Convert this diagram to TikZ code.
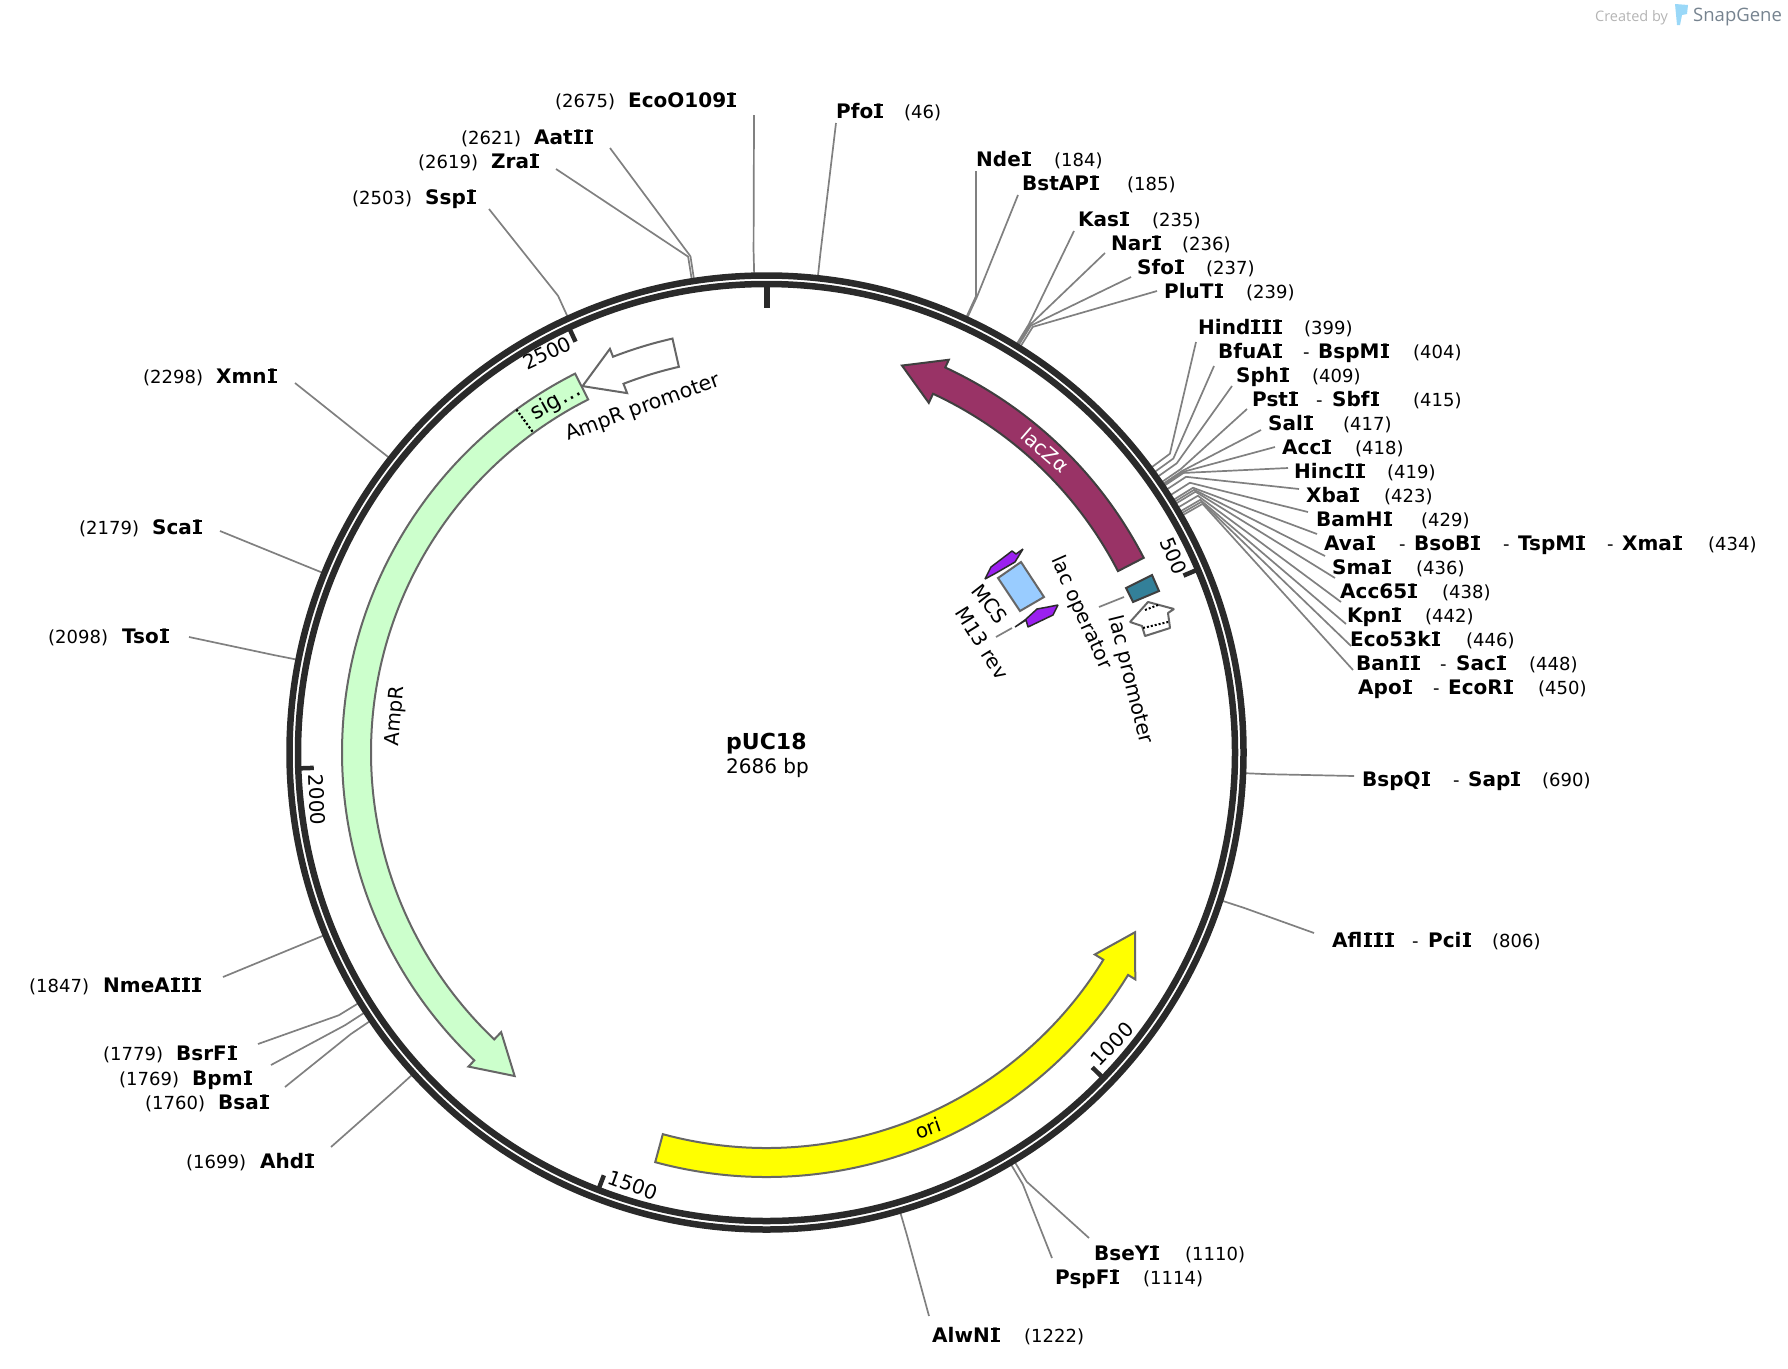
\documentclass[tikz,border=0pt]{standalone}
\usepackage{fontspec}
\setmainfont{DejaVu Sans}
\newfontfamily\logofont{Open Sans}
\definecolor{ringc}{HTML}{2A2A2A}
\definecolor{cutc}{HTML}{808080}
\definecolor{edgec}{HTML}{666666}
\definecolor{ampc}{HTML}{CCFFCC}
\definecolor{lacc}{HTML}{993366}
\definecolor{oric}{HTML}{FFFF00}
\definecolor{opc}{HTML}{338099}
\definecolor{mcsc}{HTML}{99CCFF}
\definecolor{m13c}{HTML}{9B20F0}
\definecolor{tubec}{HTML}{9AD8F8}
\definecolor{brandc}{HTML}{76838F}
\definecolor{creditc}{HTML}{B4B4B4}
\tikzset{
  enzname/.style={anchor=mid west,inner sep=0pt,yshift=-4.6pt,font=\fontsize{20}{22}\selectfont\bfseries},
  enznum/.style={anchor=mid west,inner sep=0pt,yshift=-4.6pt,font=\fontsize{18}{20}\selectfont},
  enzdash/.style={anchor=mid west,inner sep=0pt,yshift=-4.6pt,font=\fontsize{18}{20}\selectfont},
  cutline/.style={draw=cutc,line width=1.7pt,line join=round},
  tickline/.style={draw=ringc,line width=4.5pt},
  ringline/.style={draw=ringc,line width=6.5pt},
  feat/.style={draw=edgec,line width=2pt,line join=miter},
  primer/.style={line width=1.5pt,draw=ringc,fill=m13c,line join=bevel},
  featlabel/.style={inner sep=0pt,font=\fontsize{20}{22}\selectfont},
  centerhere/.style={shift={(766.5,-752.5)}}
}
% serifed capital I, as the bold labels print it
\newcommand{\Ii}{\hbox to .54em{\hss\rlap{\rule[0em]{.44em}{.125em}}\rlap{\rule[.604em]{.44em}{.125em}}\hbox to .44em{\hss I\hss}\hss}}
% name label
\newcommand{\plEnz}[4]{\node[enzname] (#1) at (#2,-#3) {#4};}
% position label
\newcommand{\plNum}[3]{\node[enznum] (n#3) at (#1,-#2) {(#3)};}
% hyphen between names
\newcommand{\plDash}[3]{\node[enzdash] (#1) at (#2,-#3) {-};}
% cut-site connector: id, position, free end x, y
\newcommand{\plCut}[4]{%
  \begin{scope}[centerhere]
    \coordinate (a#1) at ({90-#2/2686*360}:480);
    \coordinate (b#1) at ({90-#2/2686*360}:502);
  \end{scope}
  \coordinate (e#1) at (#3,-#4);
  \draw[cutline] (a#1) -- (b#1) -- (e#1);
}
% scale tick
\newcommand{\plTick}[1]{%
  \begin{scope}[centerhere]
    \coordinate (ti#1) at ({90-#1/2686*360}:468);
    \coordinate (to#1) at ({90-#1/2686*360}:453);
    \draw[tickline] (ti#1) -- (to#1);
  \end{scope}
}
% feature arrow: style, start angle, head base angle, tip angle (clockwise from top)
\newcommand{\plArrow}[4]{%
  \begin{scope}[centerhere]
    \draw[feat,#1] ({90-(#2)}:424.5)
      arc[start angle={90-(#2)},end angle={90-(#3)},radius=424.5]
      -- ({90-(#3)}:433) -- ({90-(#4)}:410) -- ({90-(#3)}:385.5) -- ({90-(#3)}:395.5)
      arc[start angle={90-(#3)},end angle={90-(#2)},radius=395.5] -- cycle;
  \end{scope}
}
\begin{document}
\begin{tikzpicture}[x=1pt,y=1pt]
\useasboundingbox (0,0) rectangle (1788,-1368);

% connectors to the cut sites
\plCut{EcoOi}{2675}{754}{115}
\plCut{PfoI}{46}{836}{123}
\plCut{AatII}{2621}{610}{148}
\plCut{ZraI}{2619}{556}{169}
\plCut{SspI}{2503}{489}{209}
\plCut{NdeI}{184}{976}{171}
\plCut{BstAPI}{185}{1018}{195}
\plCut{KasI}{235}{1074}{231}
\plCut{NarI}{236}{1105}{253}
\plCut{SfoI}{237}{1131}{277}
\plCut{PluTI}{239}{1157}{291}
\plCut{HindIII}{399}{1196}{342}
\plCut{BfuAI}{404}{1214}{366}
\plCut{SphI}{409}{1232}{386}
\plCut{PstI}{415}{1247}{409}
\plCut{SalI}{417}{1261}{430}
\plCut{AccI}{418}{1275}{447}
\plCut{HincII}{419}{1288}{468}
\plCut{XbaI}{423}{1299}{489}
\plCut{BamHI}{429}{1308}{512}
\plCut{AvaI}{434}{1317}{534}
\plCut{SmaI}{436}{1325}{556}
\plCut{AccSF}{438}{1335}{578}
\plCut{KpnI}{442}{1341}{602}
\plCut{EcoFT}{446}{1346}{624}
\plCut{BanII}{448}{1351}{646}
\plCut{ApoI}{450}{1353}{670}
\plCut{BspQI}{690}{1354}{776}
\plCut{AflIII}{806}{1314}{933}
\plCut{BseYI}{1110}{1089}{1238}
\plCut{PspFI}{1114}{1052}{1258}
\plCut{AlwNI}{1222}{929}{1316}
\plCut{AhdI}{1699}{331}{1147}
\plCut{BsaI}{1760}{285}{1087}
\plCut{BpmI}{1769}{271}{1065}
\plCut{BsrFI}{1779}{258}{1044}
\plCut{NmeAIII}{1847}{223}{977}
\plCut{TsoI}{2098}{189}{637}
\plCut{ScaI}{2179}{220}{531}
\plCut{XmnI}{2298}{295}{383}

% backbone
\begin{scope}[centerhere]
  \coordinate (hub) at (0,0);
  \draw[ringline] (hub) circle[radius=477];
  \draw[ringline] (hub) circle[radius=468.5];
  \coordinate (ti0) at (0,466);
  \coordinate (to0) at (0,445);
  \draw[tickline,line width=6pt] (ti0) -- (to0);
\end{scope}
\plTick{500}\plTick{1000}\plTick{1500}\plTick{2000}\plTick{2500}
\node[featlabel,rotate=-67] (t500) at (1174,-556) {500};
\node[featlabel,rotate=46] (t1000) at (1112,-1044) {1000};
\node[featlabel,rotate=-20] (t1500) at (633,-1185) {1500};
\node[featlabel,rotate=-88] (t2000) at (317,-800) {2000};
\node[featlabel,rotate=25] (t2500) at (547,-353) {2500};

% features
\plArrow{fill=ampc}{333.2}{223.5}{217.9}
\begin{scope}[centerhere]
  \coordinate (sigo) at ({90-323.9}:424.5);
  \coordinate (sigi) at ({90-323.9}:395.5);
\end{scope}
\draw[black,line width=2.2pt,dotted] (sigo) -- (sigi);
\plArrow{fill=lacc,draw=ringc!90}{62.7}{24.9}{19.3}
\plArrow{fill=oric}{195.2}{121.6}{116}
\plArrow{fill=white}{-12.8}{-21.2}{-26.66}

\node[featlabel,rotate=29,font=\fontsize{22}{24}\selectfont] (sig) at (556,-402) {sig…};
\node[featlabel,rotate=85] (AmpR) at (396,-716) {AmpR};
\node[featlabel,rotate=20,font=\fontsize{20.5}{22}\selectfont] (AmpRp) at (643,-408) {AmpR promoter};
\node[featlabel,rotate=-41,text=white] (lacZ) at (1045,-450) {lacZα};
\node[featlabel,rotate=19] (ori) at (928,-1128) {ori};

% lac region
\draw[feat,draw=ringc!90,fill=opc] (1126,-588) -- (1152,-575) -- (1159,-591) -- (1133,-602) -- cycle;
\draw[feat,fill=mcsc] (998,-578) -- (1021,-562) -- (1044,-597) -- (1020,-611) -- cycle;
\draw[primer] (985,-579) -- (991,-567) -- (1012,-551) -- (1016,-554) -- (1023,-549) -- (1015,-562) -- (996,-573) -- cycle;
\draw[primer] (1015,-627) -- (1025,-620) -- (1037,-609) -- (1048,-607) -- (1058,-605) -- (1053,-615) -- (1028,-627) -- (1026,-620) -- cycle;
\draw[feat,fill=white,line join=bevel] (1130,-622) -- (1148,-602) -- (1174,-609) -- (1168,-613) -- (1170,-628) -- (1145,-636) -- (1142,-626) -- cycle;
\draw[black,line width=2pt,dotted] (1145,-610) -- (1158,-605);
\draw[black,line width=2pt,dotted] (1143,-628) -- (1168,-622);

\node[featlabel,rotate=-66] (lacop) at (1081,-613) {lac operator};
\node[featlabel,rotate=-76,font=\fontsize{20.5}{22}\selectfont] (lacpr) at (1130,-680) {lac promoter};
\node[featlabel,rotate=-52] (MCS) at (990,-604) {MCS};
\node[featlabel,rotate=-58] (Mrev) at (982,-643) {M13 rev};
\coordinate (opl) at (1099,-607);
\coordinate (opr) at (1124,-597);
\draw[cutline] (opl) -- (opr);
\coordinate (mrl) at (996,-637);
\coordinate (mrr) at (1012,-628);
\draw[cutline] (mrl) -- (mrr);

% centre
\node[anchor=mid west,inner sep=0pt,yshift=-4.6pt,font=\fontsize{22}{24}\selectfont\bfseries] (title) at (726,-742) {pUC18};
\node[anchor=mid west,inner sep=0pt,yshift=-4.6pt,font=\fontsize{20}{22}\selectfont] (bp) at (726,-766) {2686 bp};

% enzyme labels
\plNum{555}{100}{2675}\plEnz{lEcoOi}{628}{100}{EcoO109\Ii}
\plEnz{lPfoI}{836}{111}{Pfo\Ii}\plNum{904}{111}{46}
\plNum{461}{137}{2621}\plEnz{lAatII}{534}{137}{Aat\Ii\Ii}
\plNum{418}{161}{2619}\plEnz{lZraI}{491}{161}{Zra\Ii}
\plNum{352}{197}{2503}\plEnz{lSspI}{425}{197}{Ssp\Ii}
\plEnz{lNdeI}{976}{159}{Nde\Ii}\plNum{1054}{159}{184}
\plEnz{lBstAPI}{1022}{183}{BstAP\Ii}\plNum{1127}{183}{185}
\plEnz{lKasI}{1078}{219}{Kas\Ii}\plNum{1152}{219}{235}
\plEnz{lNarI}{1111}{243}{Nar\Ii}\plNum{1182}{243}{236}
\plEnz{lSfoI}{1137}{267}{Sfo\Ii}\plNum{1206}{267}{237}
\plEnz{lPluTI}{1164}{291}{PluT\Ii}\plNum{1246}{291}{239}
\plEnz{lHindIII}{1198}{327}{Hind\Ii\Ii\Ii}\plNum{1304}{327}{399}
\plEnz{lBfuAI}{1218}{351}{BfuA\Ii}\plDash{d404}{1303}{351}\plEnz{lBspMI}{1318}{351}{BspM\Ii}\plNum{1413}{351}{404}
\plEnz{lSphI}{1236}{375}{Sph\Ii}\plNum{1312}{375}{409}
\plEnz{lPstI}{1252}{399}{Pst\Ii}\plDash{d415}{1316}{399}\plEnz{lSbfI}{1332}{399}{Sbf\Ii}\plNum{1413}{399}{415}
\plEnz{lSalI}{1268}{423}{Sal\Ii}\plNum{1343}{423}{417}
\plEnz{lAccI}{1282}{447}{Acc\Ii}\plNum{1355}{447}{418}
\plEnz{lHincII}{1294}{471}{Hinc\Ii\Ii}\plNum{1387}{471}{419}
\plEnz{lXbaI}{1306}{495}{Xba\Ii}\plNum{1384}{495}{423}
\plEnz{lBamHI}{1316}{519}{BamH\Ii}\plNum{1421}{519}{429}
\plEnz{lAvaI}{1324}{543}{Ava\Ii}\plDash{d434a}{1399}{543}\plEnz{lBsoBI}{1414}{543}{BsoB\Ii}\plDash{d434b}{1503}{543}\plEnz{lTspMI}{1518}{543}{TspM\Ii}\plDash{d434c}{1607}{543}\plEnz{lXmaI}{1622}{543}{Xma\Ii}\plNum{1708}{543}{434}
\plEnz{lSmaI}{1332}{567}{Sma\Ii}\plNum{1416}{567}{436}
\plEnz{lAccSF}{1340}{591}{Acc65\Ii}\plNum{1442}{591}{438}
\plEnz{lKpnI}{1347}{615}{Kpn\Ii}\plNum{1425}{615}{442}
\plEnz{lEcoFT}{1350}{639}{Eco53k\Ii}\plNum{1466}{639}{446}
\plEnz{lBanII}{1356}{663}{Ban\Ii\Ii}\plDash{d448}{1440}{663}\plEnz{lSacI}{1456}{663}{Sac\Ii}\plNum{1529}{663}{448}
\plEnz{lApoI}{1358}{687}{Apo\Ii}\plDash{d450}{1433}{687}\plEnz{lEcoRI}{1448}{687}{EcoR\Ii}\plNum{1538}{687}{450}
\plEnz{lBspQI}{1362}{779}{BspQ\Ii}\plDash{d690}{1453}{779}\plEnz{lSapI}{1468}{779}{Sap\Ii}\plNum{1542}{779}{690}
\plEnz{lAflIII}{1332}{940}{Afl\Ii\Ii\Ii}\plDash{d806}{1412}{940}\plEnz{lPciI}{1428}{940}{Pci\Ii}\plNum{1492}{940}{806}
\plEnz{lBseYI}{1094}{1253}{BseY\Ii}\plNum{1185}{1253}{1110}
\plEnz{lPspFI}{1055}{1277}{PspF\Ii}\plNum{1143}{1277}{1114}
\plEnz{lAlwNI}{932}{1335}{AlwN\Ii}\plNum{1024}{1335}{1222}
\plNum{186}{1161}{1699}\plEnz{lAhdI}{260}{1161}{Ahd\Ii}
\plNum{145}{1102}{1760}\plEnz{lBsaI}{218}{1102}{Bsa\Ii}
\plNum{119}{1078}{1769}\plEnz{lBpmI}{192}{1078}{Bpm\Ii}
\plNum{103}{1053}{1779}\plEnz{lBsrFI}{176}{1053}{BsrF\Ii}
\plNum{29}{985}{1847}\plEnz{lNmeAIII}{103}{985}{NmeA\Ii\Ii\Ii}
\plNum{48}{636}{2098}\plEnz{lTsoI}{122}{636}{Tso\Ii}
\plNum{79}{527}{2179}\plEnz{lScaI}{152}{527}{Sca\Ii}
\plNum{143}{376}{2298}\plEnz{lXmnI}{216}{376}{Xmn\Ii}

% credit
\node[anchor=mid west,inner sep=0pt,text=creditc,font=\logofont\fontsize{14.5}{16}\selectfont] (credit) at (1595,-19) {Created by};
\fill[fill=tubec] (1675,-4) -- (1688,-5) -- (1687,-14) -- (1682,-15) -- (1680,-25) -- (1677,-25) -- cycle;
\node[anchor=mid west,inner sep=0pt,text=brandc,font=\logofont\fontsize{18.5}{22}\selectfont] (brand) at (1693,-19) {SnapGene};
\end{tikzpicture}
\end{document}
